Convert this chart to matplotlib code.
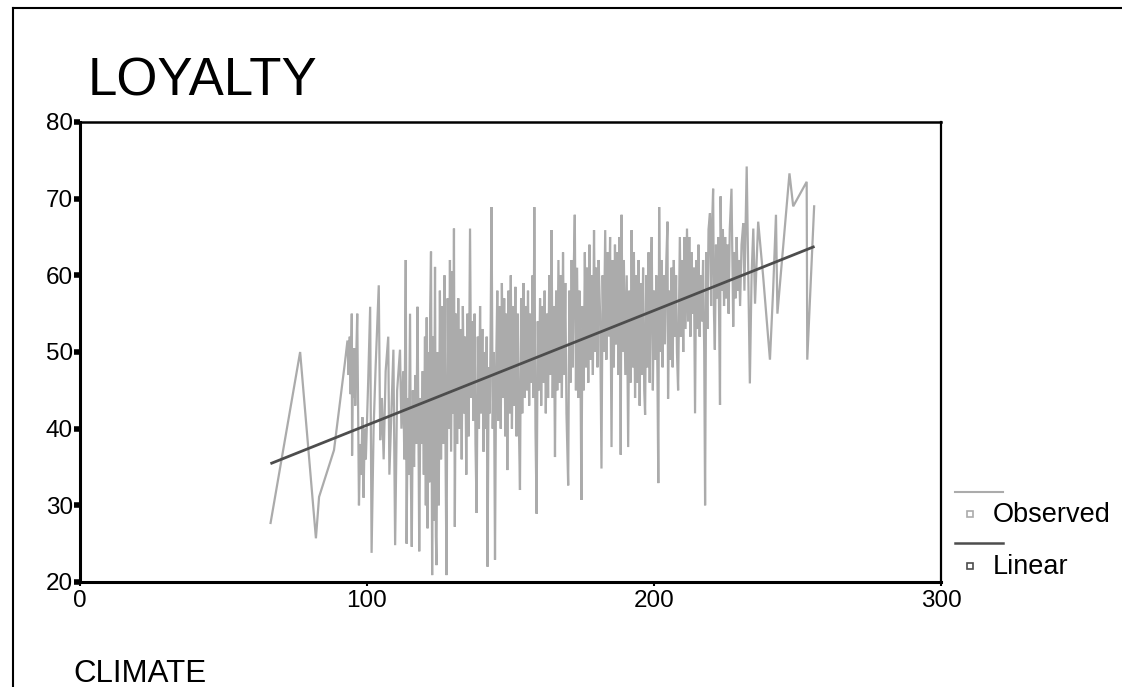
import matplotlib
matplotlib.use("Agg")
import matplotlib.pyplot as plt
from matplotlib.lines import Line2D

plt.rcParams['font.family'] = ['Liberation Sans', 'DejaVu Sans']

# Observed LOYALTY vs CLIMATE (sorted by CLIMATE)
climate = [
    # sparse start
    66.4, 76.7, 82.2, 83.3, 88.5, 92.3,
    # 93-100
    93.2, 93.6, 94.0, 94.3, 94.5, 94.7, 94.8, 95.1, 95.3, 95.6, 95.9, 96.2, 96.6, 97.2,
    97.6, 98.0, 98.4, 98.8, 99.2, 99.6,
    # 100-120
    100.4, 101.1, 101.6, 102.3, 103.0, 104.1, 104.6, 105.2, 105.8, 106.5, 107.4, 107.8,
    108.5, 109.2, 109.8, 110.5, 111.5, 112.0, 112.6, 113.0, 113.5, 113.8, 114.2, 114.5,
    114.8, 115.0, 115.3, 115.6, 116.0, 116.4, 116.8, 117.2, 117.6, 118.0, 118.2, 118.6,
    119.0, 119.4, 119.8,
    # 120-125
    120.2, 120.5, 120.8, 121.1, 121.4, 121.7, 122.0, 122.3, 122.7, 123.0, 123.3, 123.7,
    124.0, 124.2, 124.6, 125.0,
    # 125-136
    125.4, 125.8, 126.2, 126.6, 127.0, 127.4, 127.7, 128.1, 128.5, 128.9, 129.3, 129.7,
    130.0, 130.3, 130.6, 131.0, 131.4, 131.8, 132.2, 132.6, 133.0, 133.4, 133.8, 134.2,
    134.6, 135.0, 135.4, 135.9,
    # 136-145
    136.3, 136.7, 137.1, 137.5, 137.8, 138.2, 138.6, 139.0, 139.4, 139.8, 140.2, 140.6,
    141.0, 141.4, 141.7, 142.0, 142.4, 142.8, 143.1, 143.4, 143.8, 144.2, 144.6, 145.0,
    # 145-155
    145.4, 145.8, 146.2, 146.6, 147.0, 147.4, 147.8, 148.2, 148.6, 148.9, 149.3, 149.7,
    150.1, 150.5, 150.9, 151.3, 151.7, 152.1, 152.5, 152.9, 153.3, 153.7, 154.1, 154.5,
    154.9,
    # 155-165
    155.3, 155.7, 156.1, 156.5, 156.9, 157.3, 157.7, 158.0, 158.3, 158.7, 159.1, 159.5,
    159.9, 160.3, 160.7, 161.1, 161.5, 161.9, 162.3, 162.7, 163.1, 163.5, 163.9, 164.3,
    164.7, 165.1, 165.5,
    # 165-180
    165.9, 166.3, 166.7, 167.1, 167.5, 167.9, 168.3, 168.7, 169.1, 169.5, 170.1, 170.5,
    170.9, 171.3, 171.7, 172.0, 172.4, 172.8, 173.2, 173.6, 174.0, 174.4, 174.7, 175.1,
    175.5, 175.9, 176.3, 176.7, 177.1, 177.5, 177.9, 178.3, 178.7, 179.1, 179.5, 179.9,
    # 180-190
    180.3, 180.7, 181.2, 181.7, 182.1, 182.5, 183.0, 183.4, 183.8, 184.2, 184.7, 185.2,
    185.6, 186.0, 186.4, 186.8, 187.2, 187.6, 188.0, 188.4, 188.7, 189.1, 189.5,
    # 190-200
    190.0, 190.5, 191.0, 191.4, 191.8, 192.2, 192.6, 193.0, 193.4, 193.8, 194.2, 194.6,
    195.0, 195.4, 195.8, 196.2, 196.6, 196.9, 197.3, 197.7, 198.1, 198.5, 198.9, 199.2,
    199.6,
    # 200-210
    200.0, 200.4, 200.8, 201.2, 201.5, 201.8, 202.2, 202.6, 203.0, 203.4, 203.8, 204.3,
    204.7, 204.9, 205.3, 205.7, 206.1, 206.5, 206.9, 207.3, 207.7, 208.0, 208.4, 209.0,
    209.4, 209.8,
    # 210-222
    210.2, 210.6, 211.0, 211.5, 211.9, 212.3, 212.7, 213.1, 213.5, 213.9, 214.3, 214.7,
    215.1, 215.5, 215.9, 216.3, 216.7, 217.1, 217.5, 217.8, 218.2, 218.6, 219.0, 219.5,
    219.9, 220.2, 220.6, 220.9, 221.2, 221.6,
    # 222-236
    222.0, 222.4, 223.0, 223.2, 223.6, 224.0, 224.4, 224.8, 225.2, 225.6, 226.0, 226.4,
    227.0, 227.6, 228.0, 228.4, 228.8, 229.2, 229.6, 230.0, 230.5, 231.1, 231.5, 232.3,
    233.4, 234.0, 234.6, 235.2, 236.3,
    # sparse end
    238.0, 240.4, 241.5, 242.5, 243.0, 247.2, 248.5, 253.2, 253.4, 255.8,
]

loyalty = [
    27.7, 50.0, 25.7, 31.1, 37.2, 48.6,
    51.5, 47.0, 52.0, 44.5, 50.2, 55.0, 36.5, 49.0, 44.0, 50.5, 43.0, 48.5, 55.0, 30.0,
    38.0, 34.0, 41.5, 31.0, 40.0, 36.0,
    46.0, 55.9, 23.8, 40.0, 48.0, 58.7, 38.5, 44.0, 36.0, 47.5, 52.0, 34.0,
    42.0, 50.3, 24.8, 45.0, 50.3, 40.0, 47.5, 36.0, 62.0, 25.0, 44.0, 34.0,
    46.0, 55.0, 33.0, 24.6, 45.0, 35.0, 47.0, 38.0, 55.9, 36.0, 24.0, 44.0,
    38.0, 47.5, 34.0,
    52.0, 30.0, 54.5, 27.0, 50.0, 33.0, 55.0, 63.1, 20.9, 52.0, 28.0, 61.1,
    26.0, 22.2, 50.0, 30.0,
    58.0, 36.0, 56.0, 38.0, 60.0, 35.0, 20.9, 57.0, 40.0, 62.0, 37.0, 60.5,
    42.0, 66.1, 27.2, 55.0, 38.0, 57.0, 40.0, 53.0, 36.0, 56.0, 42.0, 52.0,
    34.0, 55.0, 39.0, 66.1,
    44.0, 54.0, 41.0, 55.0, 38.0, 29.0, 52.0, 40.0, 56.0, 42.0, 53.0, 37.0,
    50.0, 40.0, 52.0, 22.0, 48.0, 42.0, 54.0, 68.9, 40.0, 50.0, 22.9, 48.0,
    58.0, 41.0, 56.0, 40.0, 59.0, 44.0, 57.0, 39.0, 55.0, 34.6, 58.0, 42.0,
    60.0, 40.0, 56.0, 43.0, 58.5, 39.0, 55.0, 41.0, 32.0, 57.0, 42.0, 59.0,
    44.0,
    56.0, 45.0, 58.0, 43.0, 55.0, 46.0, 60.0, 44.0, 68.9, 40.0, 28.9, 54.0,
    45.0, 57.0, 43.0, 56.0, 46.0, 58.0, 42.0, 55.0, 44.0, 60.0, 47.0, 65.9,
    44.0, 56.0, 36.3,
    58.0, 45.0, 62.0, 46.0, 60.0, 44.0, 63.0, 47.0, 59.0, 42.0, 32.6, 58.0,
    46.0, 62.0, 48.0, 60.0, 67.9, 45.0, 61.0, 44.0, 58.0, 47.0, 30.7, 56.0,
    45.0, 63.0, 48.0, 61.0, 46.0, 64.0, 49.0, 60.0, 47.0, 65.9, 50.0, 61.0,
    48.0, 62.0, 55.0, 34.8, 60.0, 50.0, 65.9, 49.0, 63.0, 52.0, 65.0, 37.6,
    62.0, 48.0, 64.0, 51.0, 63.0, 47.0, 65.0, 36.6, 67.9, 50.0, 62.0,
    47.0, 60.0, 37.6, 58.0, 46.0, 65.9, 48.0, 63.0, 44.0, 60.0, 46.0, 62.0,
    43.0, 59.0, 47.0, 61.0, 45.0, 41.8, 60.0, 48.0, 63.0, 46.0, 61.0, 65.0,
    45.0,
    58.0, 49.0, 60.0, 47.0, 32.9, 68.9, 50.0, 62.0, 48.0, 60.0, 51.0, 62.0,
    67.0, 43.9, 58.0, 49.0, 61.0, 48.0, 62.0, 52.0, 60.0, 50.0, 45.0, 65.0,
    52.0, 62.0,
    50.0, 65.0, 53.0, 66.1, 54.0, 65.0, 52.0, 63.0, 55.0, 61.0, 42.0, 62.0,
    53.0, 64.0, 52.0, 60.0, 54.0, 62.0, 50.0, 30.0, 63.0, 53.0, 66.0, 68.1,
    56.0, 66.0, 71.3, 55.0, 50.3, 64.0,
    57.0, 65.0, 43.1, 70.3, 58.0, 66.0, 56.0, 65.0, 57.0, 64.0, 55.0, 66.0,
    71.3, 53.3, 63.0, 57.0, 65.0, 58.0, 62.0, 56.0, 64.0, 66.8, 58.0, 74.2,
    45.9, 60.0, 66.1, 56.3, 67.0,
    60.0, 49.0, 58.0, 67.9, 55.0, 73.3, 69.0, 72.2, 49.0, 69.0,
]

# Linear fit line (end points)
linear_x = [66.8, 255.5]
linear_y = [35.5, 63.7]

x_ticks = [0, 100, 200, 300]
y_ticks = [20, 30, 40, 50, 60, 70, 80]

obs_color = '#ababab'
lin_color = '#4d4d4d'

fig = plt.figure(figsize=(11.22, 6.87), dpi=100)
ax = fig.add_axes([80 / 1122, 1 - 582 / 687, 861 / 1122, 460 / 687])

ax.plot(climate, loyalty, color=obs_color, lw=1.6, solid_joinstyle='miter')
ax.plot(linear_x, linear_y, color=lin_color, lw=2.0)

ax.set_xlim(0, 300)
ax.set_ylim(20, 80)
ax.set_xticks(x_ticks)
ax.set_yticks(y_ticks)
ax.tick_params(axis='y', direction='out', length=4, width=4, labelsize=17.5, pad=1)
ax.tick_params(axis='x', direction='out', length=3, width=1.5, labelsize=17.5, pad=3)
for side, lw in [('left', 2.2), ('bottom', 2.2), ('top', 1.8), ('right', 1.6)]:
    ax.spines[side].set_linewidth(lw)
    ax.spines[side].set_color('black')

# titles as SPSS puts them
fig.text(88 / 1122, 1 - 95 / 687, 'LOYALTY', fontsize=38, ha='left', va='baseline')
fig.text(73 / 1122, 1 - 682 / 687, 'CLIMATE', fontsize=22.5, ha='left', va='baseline')

# legend to the right of the plot
def fx(px):
    return px / 1122

def fy(py):
    return 1 - py / 687

fig.add_artist(Line2D([fx(955), fx(1003)], [fy(492), fy(492)], color=obs_color, lw=1.5))
fig.add_artist(Line2D([fx(970)], [fy(514)], marker='s', ms=4, mfc='none', mec=obs_color, mew=1.2))
fig.text(fx(993), fy(515), 'Observed', fontsize=19.5, ha='left', va='center')
fig.add_artist(Line2D([fx(955), fx(1003)], [fy(543), fy(543)], color=lin_color, lw=1.8))
fig.add_artist(Line2D([fx(970)], [fy(566)], marker='s', ms=4, mfc='none', mec=lin_color, mew=1.2))
fig.text(fx(993), fy(567), 'Linear', fontsize=19.5, ha='left', va='center')

# outer frame of the scanned page
fig.add_artist(Line2D([fx(13), 1.0], [fy(8), fy(8)], color='black', lw=1.5))
fig.add_artist(Line2D([fx(13), fx(13)], [fy(8), 0.0], color='black', lw=1.5))

fig.savefig('out.png', dpi=100)
